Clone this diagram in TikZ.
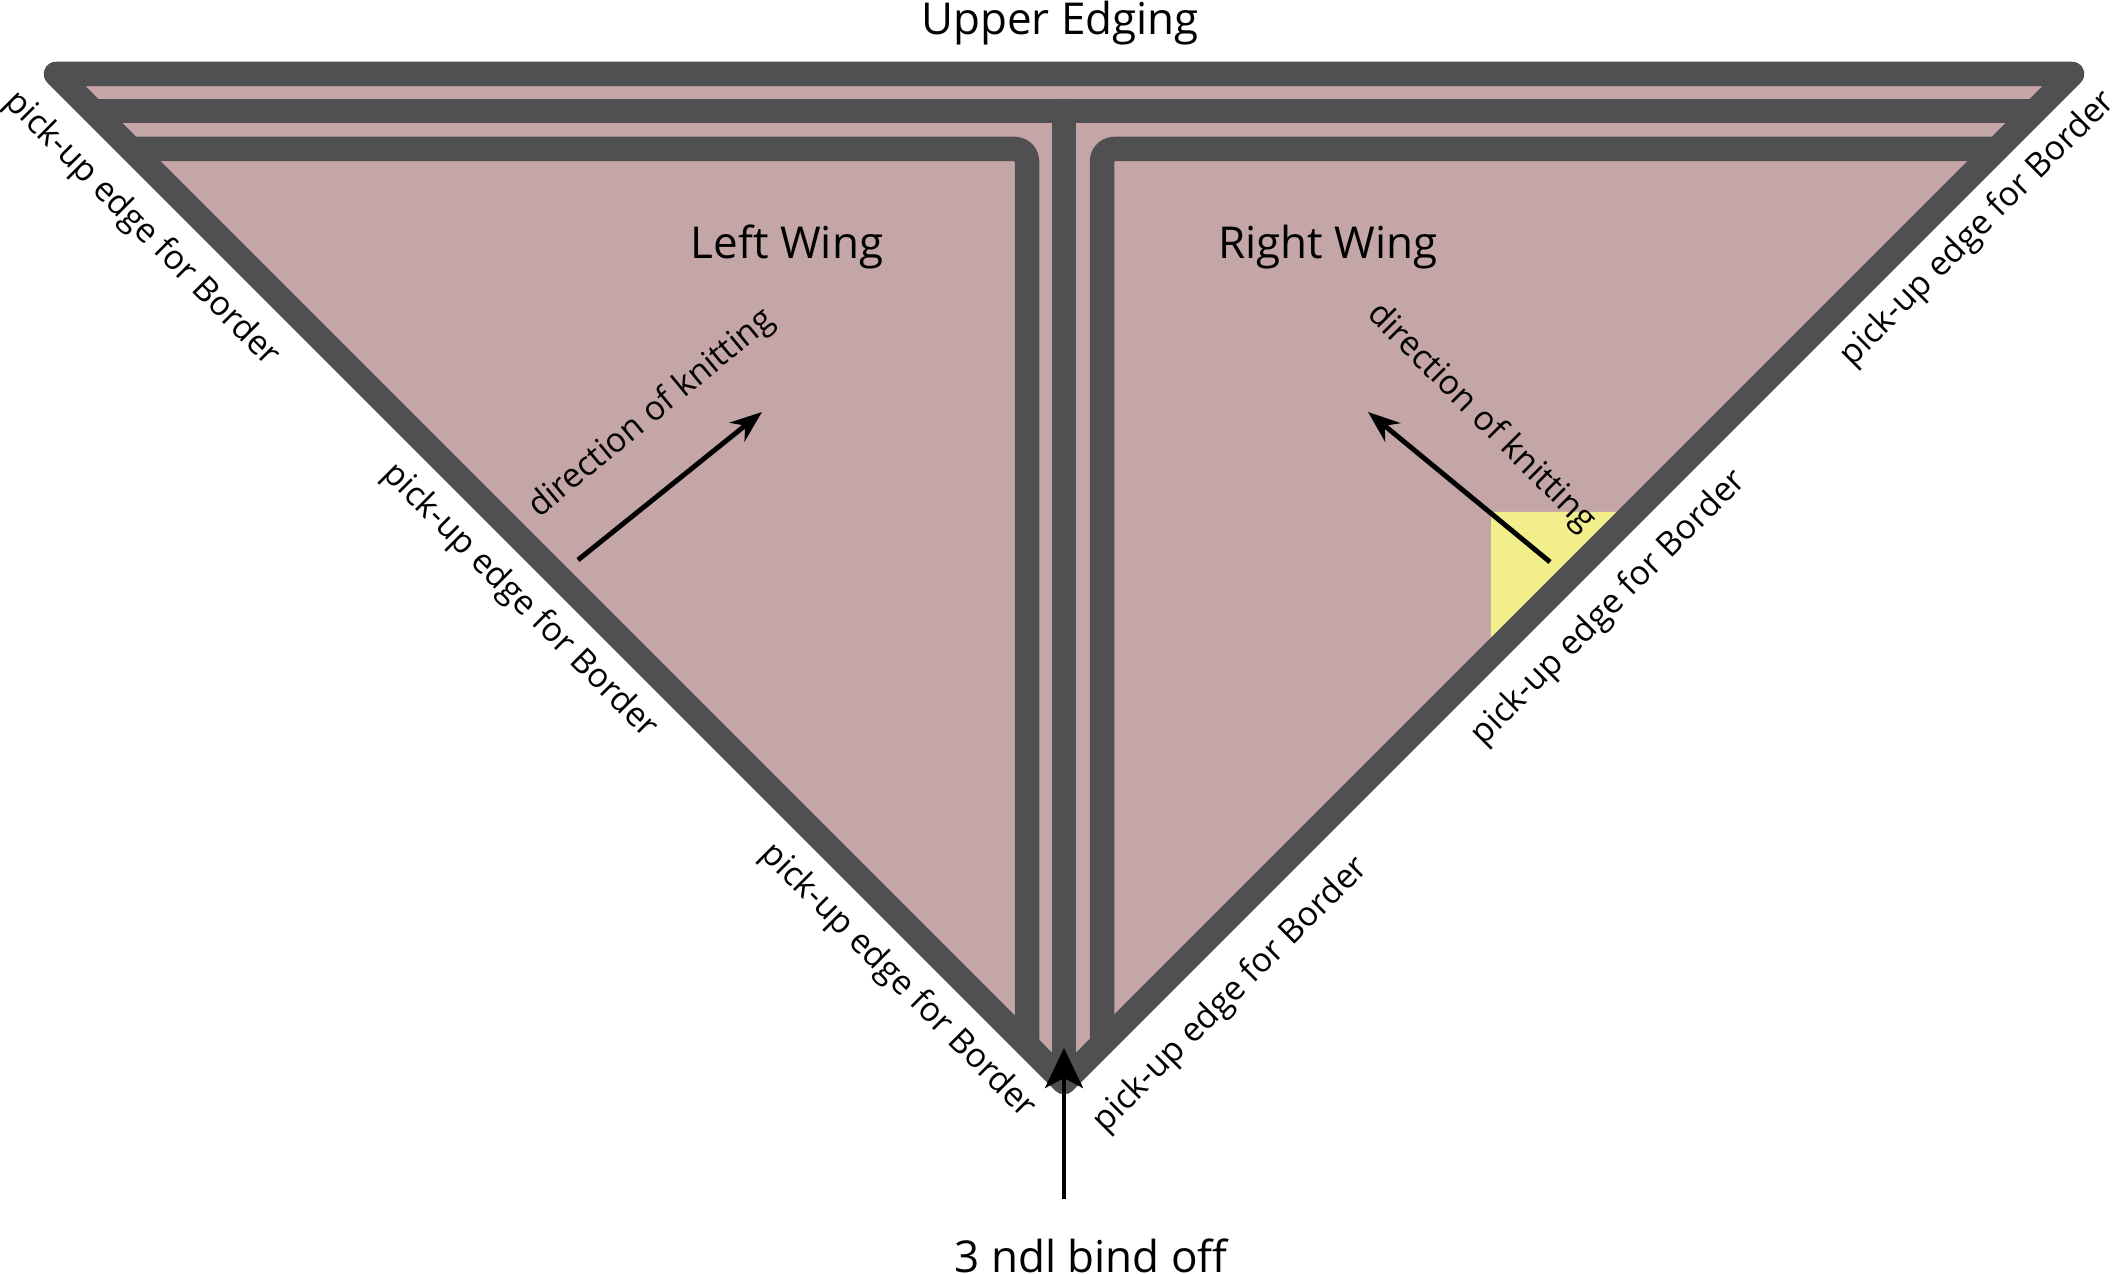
\documentclass[tikz,border=0pt]{standalone}
\usepackage{fontspec}
\setmainfont{Open Sans}
\usetikzlibrary{arrows.meta}
\definecolor{band}{HTML}{505052}
\definecolor{wool}{HTML}{C4A6A7}
\definecolor{hl}{HTML}{F2EE8C}
\begin{document}
\begin{tikzpicture}[x=0.01cm,y=-0.01cm,
  bandline/.style={draw=band,line width=0.245cm,line join=round,line cap=round},
  big/.style={font=\fontsize{12.5}{14}\selectfont},
  lab/.style={font=\fontsize{9.6}{11}\selectfont},
  arr/.style={-{Stealth[length=0.32cm,width=0.24cm]},line width=1.4pt}]
\useasboundingbox (0,0) rectangle (2116,1274);
% fill
\fill[wool] (56,74) -- (2072,74) -- (1064,1082) -- cycle;
\fill[hl] (1491,512) -- (1640,512) -- (1491,661) -- cycle;
% wings
\draw[bandline,rounded corners=0.12cm] (131,149) -- (1027,149) -- (1027,1045);
\draw[bandline,rounded corners=0.12cm] (1997,149) -- (1102,149) -- (1102,1044);
% second upper line and centre line
\draw[bandline] (93,111) -- (2035,111);
\draw[bandline] (1064,111) -- (1064,1082);
% outer
\draw[bandline] (56,74) -- (2072,74) -- (1064,1082) -- cycle;
% texts
\node[big] (ue) at (1060,23) {Upper Edging};
\node[big] (lw) at (787,247) {Left Wing};
\node[big] (rw) at (1328,247) {Right Wing};
\node[big] (bo) at (1091,1256) {3 ndl bind off};
\node[lab,rotate=-45] (p1) at (142,229) {pick-up edge for Border};
\node[lab,rotate=-45] (p2) at (520,601) {pick-up edge for Border};
\node[lab,rotate=-45] (p3) at (898,981) {pick-up edge for Border};
\node[lab,rotate=45] (p4) at (1978,229) {pick-up edge for Border};
\node[lab,rotate=45] (p5) at (1609,608) {pick-up edge for Border};
\node[lab,rotate=45] (p6) at (1231,995) {pick-up edge for Border};
\node[lab,rotate=39.5] (d1) at (652,414) {direction of knitting};
\node[lab,rotate=-45] (d2) at (1481,418) {direction of knitting};
% arrows
\coordinate (a1s) at (578,560); \coordinate (a1e) at (762,412);
\coordinate (a2s) at (1550,562); \coordinate (a2e) at (1368,412);
\coordinate (a3s) at (1064,1199); \coordinate (a3e) at (1064,1048);
\draw[arr] (a1s) -- (a1e);
\draw[arr] (a2s) -- (a2e);
\draw[-{Stealth[length=0.4cm,width=0.38cm,inset=0.1cm]},line width=1.4pt] (a3s) -- (a3e);
\end{tikzpicture}
\end{document}
